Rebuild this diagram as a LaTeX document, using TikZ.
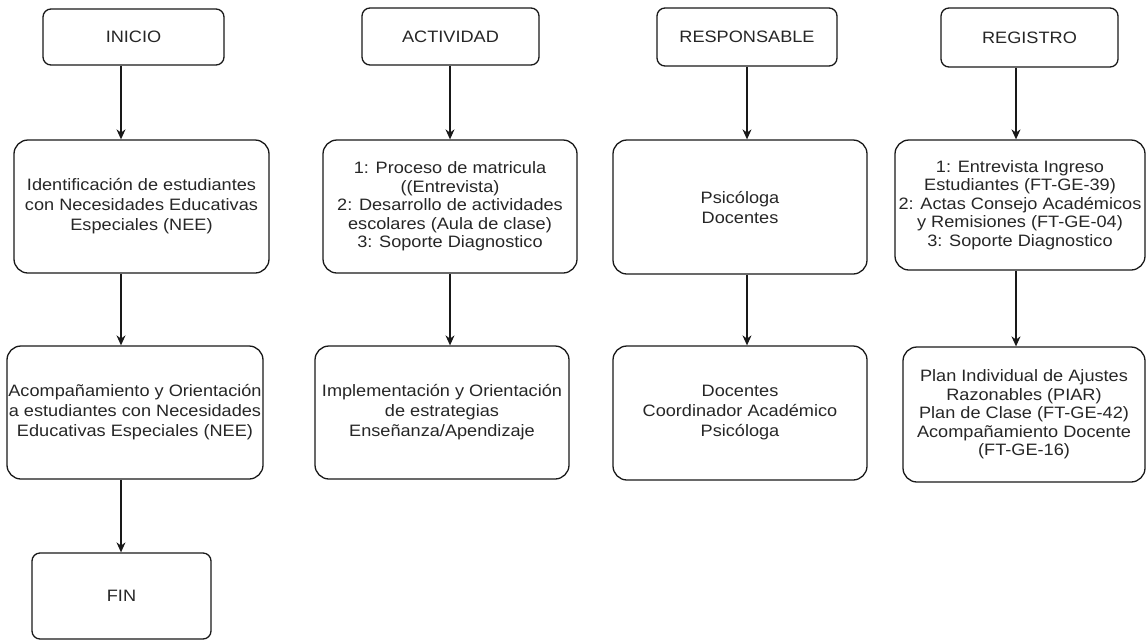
\documentclass[tikz,border=0pt]{standalone}
\usepackage{fontspec}
\setmainfont{Liberation Sans}[FakeStretch=1.1]
\usetikzlibrary{arrows.meta}
\begin{document}
\begin{tikzpicture}[x=1pt,y=-1pt,
  box/.style={draw=black!90, line width=1.3pt, rounded corners=14pt, align=center,
    inner sep=0pt, text=black!85, font=\fontsize{16.5}{20}\selectfont},
  tbox/.style={box, font=\fontsize{16.5}{18.5}\selectfont},
  hbox/.style={box, rounded corners=8pt},
  arr/.style={draw=black!90, line width=1.3pt, -{Stealth[length=10pt,width=9pt]}}]
\useasboundingbox (0,0) rectangle (1146,641);
% column 1
\node[hbox, minimum width=181pt, minimum height=56pt] (inicio) at (133.5,37) {INICIO};
\node[box, minimum width=255pt, minimum height=133pt] (ident) at (141.5,206.5)
  {Identificación de estudiantes\\con Necesidades Educativas\\Especiales (NEE)};
\node[box, minimum width=256pt, minimum height=133pt] (acomp) at (135,412.5)
  {Acompañamiento y Orientación\\a estudiantes con Necesidades\\Educativas Especiales (NEE)};
\node[hbox, minimum width=179pt, minimum height=86pt] (fin) at (121.5,596) {FIN};
% column 2
\node[hbox, minimum width=177pt, minimum height=57pt] (actividad) at (450.5,36.5) {ACTIVIDAD};
\node[tbox, minimum width=254pt, minimum height=133pt] (act) at (450,206.5)
  {1: Proceso de matricula\\((Entrevista)\\2: Desarrollo de actividades\\escolares (Aula de clase)\\3: Soporte Diagnostico};
\node[box, minimum width=254pt, minimum height=133pt] (impl) at (442,412.5)
  {Implementación y Orientación\\de estrategias\\Enseñanza/Apendizaje};
% column 3
\node[hbox, minimum width=180pt, minimum height=58pt] (resp) at (747,37) {RESPONSABLE};
\node[box, minimum width=254pt, minimum height=134pt] (psic) at (740,207)
  {Psicóloga\\Docentes};
\node[box, minimum width=254pt, minimum height=134pt] (doc) at (740,413)
  {Docentes\\Coordinador Académico\\Psicóloga};
% column 4
\node[hbox, minimum width=177pt, minimum height=59pt] (registro) at (1029.5,37.5) {REGISTRO};
\node[tbox, minimum width=250pt, minimum height=130pt] (reg) at (1020,205)
  {1: Entrevista Ingreso\\Estudiantes (FT-GE-39)\\2: Actas Consejo Académicos\\y Remisiones (FT-GE-04)\\3: Soporte Diagnostico};
\node[tbox, minimum width=242pt, minimum height=135pt] (plan) at (1024,414.5)
  {Plan Individual de Ajustes\\Razonables (PIAR)\\Plan de Clase (FT-GE-42)\\Acompañamiento Docente\\(FT-GE-16)};
% arrow columns
\coordinate (c1) at (121,0);
\coordinate (c2) at (450,0);
\coordinate (c3) at (747,0);
\coordinate (c4) at (1016,0);
\draw[arr] (inicio.south -| c1) -- (ident.north -| c1);
\draw[arr] (ident.south -| c1) -- (acomp.north -| c1);
\draw[arr] (acomp.south -| c1) -- (fin.north -| c1);
\draw[arr] (actividad.south -| c2) -- (act.north -| c2);
\draw[arr] (act.south -| c2) -- (impl.north -| c2);
\draw[arr] (resp.south -| c3) -- (psic.north -| c3);
\draw[arr] (psic.south -| c3) -- (doc.north -| c3);
\draw[arr] (registro.south -| c4) -- (reg.north -| c4);
\draw[arr] (reg.south -| c4) -- (plan.north -| c4);
\end{tikzpicture}
\end{document}
